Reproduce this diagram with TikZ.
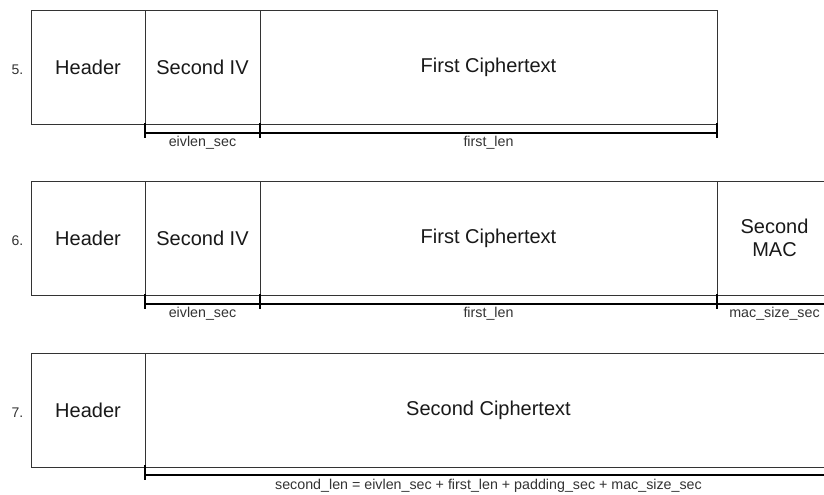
\documentclass[tikz,border=0pt]{standalone}
\usepackage{fontspec}
\setmainfont{Liberation Sans}
\begin{document}
\begin{tikzpicture}[x=0.75pt,y=-0.75pt,
  cell/.style={draw=black!80,line width=0.75pt,rectangle,inner sep=0pt,minimum height=114*0.75pt,font=\fontsize{15}{17.5}\selectfont,text=black!90,align=center},
  num/.style={font=\fontsize{10.5}{12}\selectfont,text=black!80},
  lbl/.style={font=\fontsize{10.7}{12}\selectfont,text=black!80,inner sep=0pt},
  brk/.style={draw=black,line width=1.5pt},
  tick/.style={draw=black,line width=1.5pt}]
\clip (0,0) rectangle (824,494);
\fill[white] (0,0) rectangle (824,494);
% Row 5
\node[cell,minimum width=114*0.75pt] (h5) at (88,67) {Header};
\node[cell,minimum width=115*0.75pt] (iv5) at (202.5,67) {Second IV};
\node[cell,minimum width=457*0.75pt] (ct5) at (488.5,67) {First Ciphertext};
\node[num] (n5) at (17.5,70) {5.};
\coordinate (a5) at (145,133); \coordinate (b5) at (260,133); \coordinate (c5) at (717,133);
\draw[brk] (a5) -- (c5);
\foreach \p in {a5,b5,c5} \draw[tick] ([yshift=7.5pt]\p) -- ([yshift=-3.75pt]\p);
\node[lbl] (l5a) at (202.5,143) {eivlen\_sec};
\node[lbl] (l5b) at (488.5,143) {first\_len};
% Row 6
\node[cell,minimum width=114*0.75pt] (h6) at (88,238) {Header};
\node[cell,minimum width=115*0.75pt] (iv6) at (202.5,238) {Second IV};
\node[cell,minimum width=457*0.75pt] (ct6) at (488.5,238) {First Ciphertext};
\node[cell,minimum width=115*0.75pt] (mac6) at (774.5,238) {Second\\MAC};
\node[num] (n6) at (17.5,241) {6.};
\coordinate (a6) at (145,304); \coordinate (b6) at (260,304); \coordinate (c6) at (717,304); \coordinate (d6) at (832,304);
\draw[brk] (a6) -- (d6);
\foreach \p in {a6,b6,c6,d6} \draw[tick] ([yshift=7.5pt]\p) -- ([yshift=-3.75pt]\p);
\node[lbl] (l6a) at (202.5,314) {eivlen\_sec};
\node[lbl] (l6b) at (488.5,314) {first\_len};
\node[lbl] (l6c) at (774.5,314) {mac\_size\_sec};
% Row 7
\node[cell,minimum width=114*0.75pt] (h7) at (88,410) {Header};
\node[cell,minimum width=687*0.75pt] (ct7) at (488.5,410) {Second Ciphertext};
\node[num] (n7) at (17.5,413) {7.};
\coordinate (a7) at (145,475); \coordinate (d7) at (832,475);
\draw[brk] (a7) -- (d7);
\foreach \p in {a7,d7} \draw[tick] ([yshift=7.5pt]\p) -- ([yshift=-3.75pt]\p);
\node[lbl] (l7) at (488.5,486) {second\_len = eivlen\_sec + first\_len + padding\_sec + mac\_size\_sec};
\end{tikzpicture}
\end{document}
